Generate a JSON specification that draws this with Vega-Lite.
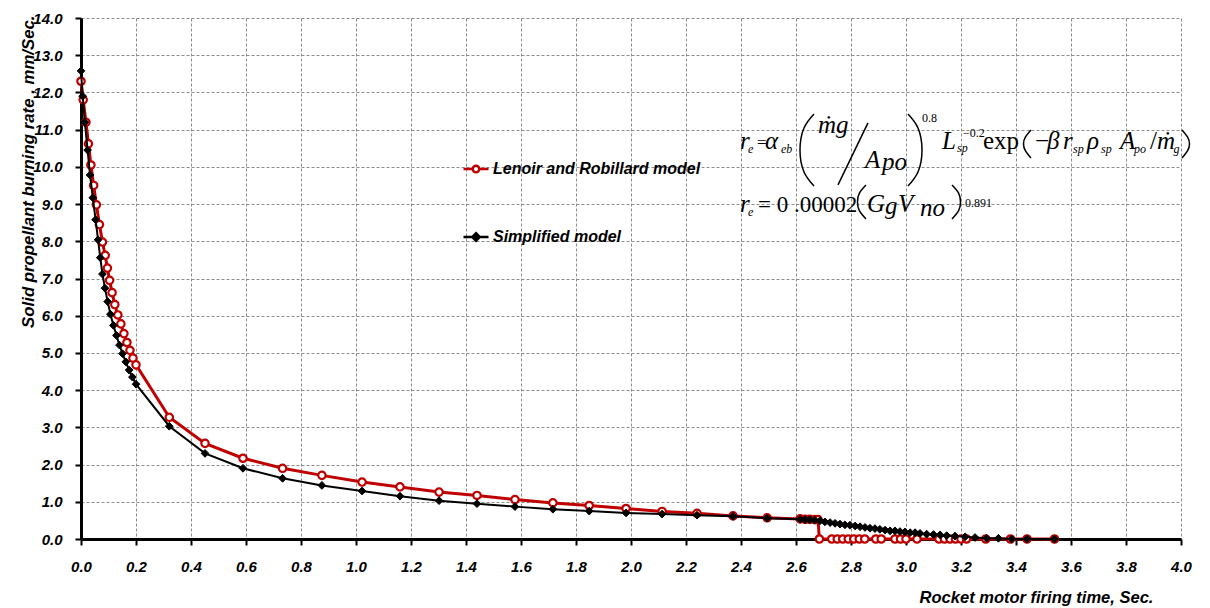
{
  "$schema": "https://vega.github.io/schema/vega-lite/v6.json",
  "width": 1100,
  "height": 521,
  "autosize": {"type": "none"},
  "padding": {"left": 81, "top": 18, "right": 29, "bottom": 69},
  "background": "white",
  "config": {
    "view": {"stroke": null},
    "axis": {
      "domainColor": "black", "domainWidth": 3,
      "tickColor": "black", "tickWidth": 2, "tickSize": 6,
      "labelFont": "Liberation Sans", "labelFontSize": 15, "labelFontStyle": "italic", "labelFontWeight": "bold", "labelColor": "black",
      "labelOverlap": false, "labelFlush": false,
      "gridColor": "#8c8c8c", "gridDash": [3, 2], "gridWidth": 1,
      "titleFont": "Liberation Sans", "titleFontSize": 16.5, "titleFontStyle": "italic", "titleFontWeight": "bold", "titleColor": "black"
    },
    "axisY": {"labelOverlap": false},
    "axisX": {"labelOverlap": false},
    "axisQuantitative": {"labelOverlap": false}
  },
  "datasets": {
    "lenoir": [
      {"t":0,"r":12.30},{"t":0.008,"r":11.80},{"t":0.018,"r":11.20},{"t":0.027,"r":10.62},{"t":0.036,"r":10.05},{"t":0.046,"r":9.50},{"t":0.056,"r":8.98},{"t":0.067,"r":8.45},{"t":0.078,"r":7.98},{"t":0.088,"r":7.62},{"t":0.096,"r":7.28},{"t":0.104,"r":6.95},{"t":0.113,"r":6.62},{"t":0.123,"r":6.30},{"t":0.134,"r":6.02},{"t":0.145,"r":5.78},{"t":0.156,"r":5.52},{"t":0.167,"r":5.28},{"t":0.178,"r":5.07},{"t":0.189,"r":4.86},{"t":0.200,"r":4.68},
      {"t":0.321,"r":3.27},{"t":0.451,"r":2.57},{"t":0.589,"r":2.17},{"t":0.733,"r":1.90},{"t":0.876,"r":1.71},{"t":1.022,"r":1.53},{"t":1.160,"r":1.40},{"t":1.302,"r":1.26},{"t":1.440,"r":1.17},{"t":1.578,"r":1.06},{"t":1.716,"r":0.97},{"t":1.848,"r":0.90},{"t":1.982,"r":0.82},{"t":2.113,"r":0.74},{"t":2.240,"r":0.69},{"t":2.371,"r":0.62},{"t":2.495,"r":0.57},
      {"t":2.615,"r":0.54},{"t":2.633,"r":0.53},{"t":2.650,"r":0.53},{"t":2.668,"r":0.52},{"t":2.680,"r":0.52},{"t":2.685,"r":0},
      {"t":2.73,"r":0},{"t":2.75,"r":0},{"t":2.77,"r":0},{"t":2.79,"r":0},{"t":2.81,"r":0},{"t":2.83,"r":0},{"t":2.85,"r":0},{"t":2.89,"r":0},{"t":2.91,"r":0},{"t":2.96,"r":0},{"t":2.98,"r":0},{"t":3.00,"r":0},{"t":3.04,"r":0},{"t":3.12,"r":0},{"t":3.14,"r":0},{"t":3.16,"r":0},{"t":3.18,"r":0},{"t":3.20,"r":0},{"t":3.22,"r":0},{"t":3.29,"r":0},{"t":3.38,"r":0},{"t":3.44,"r":0},{"t":3.54,"r":0}
    ],
    "simplified": [
      {"t":0,"r":12.58},{"t":0.006,"r":11.90},{"t":0.014,"r":11.20},{"t":0.024,"r":10.45},{"t":0.033,"r":9.78},{"t":0.043,"r":9.17},{"t":0.053,"r":8.58},{"t":0.062,"r":8.04},{"t":0.070,"r":7.56},{"t":0.078,"r":7.12},{"t":0.087,"r":6.74},{"t":0.097,"r":6.38},{"t":0.107,"r":6.04},{"t":0.118,"r":5.74},{"t":0.129,"r":5.47},{"t":0.140,"r":5.21},{"t":0.151,"r":4.98},{"t":0.163,"r":4.76},{"t":0.175,"r":4.54},{"t":0.187,"r":4.35},{"t":0.200,"r":4.16},
      {"t":0.321,"r":3.03},{"t":0.451,"r":2.30},{"t":0.589,"r":1.90},{"t":0.733,"r":1.63},{"t":0.876,"r":1.44},{"t":1.022,"r":1.29},{"t":1.160,"r":1.15},{"t":1.302,"r":1.03},{"t":1.440,"r":0.95},{"t":1.578,"r":0.87},{"t":1.716,"r":0.80},{"t":1.848,"r":0.75},{"t":1.982,"r":0.70},{"t":2.113,"r":0.67},{"t":2.240,"r":0.64},{"t":2.371,"r":0.61},{"t":2.495,"r":0.56},
      {"t":2.615,"r":0.53},{"t":2.633,"r":0.52},{"t":2.650,"r":0.52},{"t":2.668,"r":0.51},{"t":2.687,"r":0.49},{"t":2.705,"r":0.46},{"t":2.724,"r":0.44},{"t":2.742,"r":0.42},{"t":2.760,"r":0.40},{"t":2.778,"r":0.38},{"t":2.796,"r":0.37},{"t":2.815,"r":0.35},{"t":2.833,"r":0.33},{"t":2.851,"r":0.31},{"t":2.869,"r":0.29},{"t":2.887,"r":0.28},{"t":2.905,"r":0.26},{"t":2.924,"r":0.24},{"t":2.942,"r":0.22},{"t":2.960,"r":0.22},{"t":2.978,"r":0.20},{"t":2.996,"r":0.19},{"t":3.015,"r":0.17},{"t":3.033,"r":0.17},{"t":3.051,"r":0.15},{"t":3.075,"r":0.13},{"t":3.100,"r":0.12},{"t":3.124,"r":0.11},{"t":3.148,"r":0.09},{"t":3.178,"r":0.08},{"t":3.215,"r":0.06},{"t":3.251,"r":0.04},{"t":3.293,"r":0.02},{"t":3.336,"r":0.02},{"t":3.384,"r":0},{"t":3.44,"r":0},{"t":3.54,"r":0}
    ],
    "fIt": [
      {"s":"r","t":2.3964,"r":10.481},{"s":"α","t":2.4873,"r":10.481},{"s":"ṁg","t":2.68,"r":10.911},{"s":"A","t":2.851,"r":9.97},{"s":"po","t":2.913,"r":9.917},{"s":"L","t":3.131,"r":10.481},{"s":"β","t":3.5127,"r":10.481},{"s":"r","t":3.5709,"r":10.481},{"s":"ρ","t":3.6582,"r":10.481},{"s":"A","t":3.7782,"r":10.481},{"s":"ṁ","t":3.9127,"r":10.481},
      {"s":"r","t":2.3964,"r":8.788},{"s":"G","t":2.858,"r":8.788},{"s":"g","t":2.9236,"r":8.734},{"s":"V","t":2.971,"r":8.788},{"s":"no","t":3.051,"r":8.68}
    ],
    "fRm": [
      {"s":"exp","t":3.28,"r":10.481},{"s":"−","t":3.469,"r":10.481},{"s":"/","t":3.887,"r":10.481}
    ],
    "fEq": [
      {"s":"=","t":2.4582,"r":10.52}
    ],
    "fRm2": [
      {"s":"= 0 .00002","t":2.462,"r":8.788}
    ],
    "fSub": [
      {"s":"e","t":2.4255,"r":10.373},{"s":"eb","t":2.5455,"r":10.373},{"s":"sp","t":3.1855,"r":10.40},{"s":"sp","t":3.6073,"r":10.373},{"s":"sp","t":3.709,"r":10.373},{"s":"po","t":3.829,"r":10.373},{"s":"g","t":3.9727,"r":10.373},{"s":"e","t":2.4255,"r":8.68}
    ],
    "fSup": [
      {"s":"0.8","t":3.058,"r":11.207},{"s":"−0.2","t":3.2073,"r":10.803},{"s":"0.891","t":3.2145,"r":8.922}
    ],
    "strokes": [
      {"g":"p1","k":1,"t":2.6655,"r":11.422},{"g":"p1","k":2,"t":2.6291,"r":11.046},{"g":"p1","k":3,"t":2.6145,"r":10.454},{"g":"p1","k":4,"t":2.6291,"r":9.863},{"g":"p1","k":5,"t":2.6655,"r":9.487},
      {"g":"p2","k":1,"t":3.0073,"r":11.422},{"g":"p2","k":2,"t":3.0436,"r":11.046},{"g":"p2","k":3,"t":3.0582,"r":10.454},{"g":"p2","k":4,"t":3.0436,"r":9.863},{"g":"p2","k":5,"t":3.0073,"r":9.487},
      {"g":"p3","k":1,"t":3.4545,"r":10.992},{"g":"p3","k":2,"t":3.4345,"r":10.803},{"g":"p3","k":3,"t":3.4273,"r":10.615},{"g":"p3","k":4,"t":3.4345,"r":10.427},{"g":"p3","k":5,"t":3.4545,"r":10.239},
      {"g":"p4","k":1,"t":4.0036,"r":10.992},{"g":"p4","k":2,"t":4.0236,"r":10.803},{"g":"p4","k":3,"t":4.0309,"r":10.615},{"g":"p4","k":4,"t":4.0236,"r":10.427},{"g":"p4","k":5,"t":4.0036,"r":10.239},
      {"g":"p5","k":1,"t":2.8545,"r":9.514},{"g":"p5","k":2,"t":2.8309,"r":9.299},{"g":"p5","k":3,"t":2.8236,"r":9.057},{"g":"p5","k":4,"t":2.8309,"r":8.815},{"g":"p5","k":5,"t":2.8545,"r":8.600},
      {"g":"p6","k":1,"t":3.1673,"r":9.514},{"g":"p6","k":2,"t":3.1909,"r":9.299},{"g":"p6","k":3,"t":3.1982,"r":9.057},{"g":"p6","k":4,"t":3.1909,"r":8.815},{"g":"p6","k":5,"t":3.1673,"r":8.600},
      {"g":"slash","k":1,"t":2.7527,"r":9.514},{"g":"slash","k":2,"t":2.8618,"r":11.18}
    ]
  },
  "layer": [
    {
      "data": {"name": "lenoir"},
      "mark": {"type": "line", "strokeWidth": 3},
      "encoding": {
        "x": {"field": "t", "type": "quantitative", "scale": {"domain": [0, 4], "nice": false, "zero": false},
          "axis": {"values": [0,0.2,0.4,0.6,0.8,1,1.2,1.4,1.6,1.8,2,2.2,2.4,2.6,2.8,3,3.2,3.4,3.6,3.8,4], "format": ".1f", "grid": true, "labelPadding": 14, "labelOverlap": false,
            "title": "Rocket motor firing time, Sec.", "titleX": 955, "titleY": 58, "titleAlign": "center", "titleBaseline": "middle"}},
        "y": {"field": "r", "type": "quantitative", "scale": {"domain": [0, 14], "nice": false, "zero": false},
          "axis": {"values": [0,1,2,3,4,5,6,7,8,9,10,11,12,13,14], "tickCount": 15, "format": ".1f", "grid": true, "labelPadding": 13, "labelOverlap": false,
            "title": "Solid propellant burning rate , mm/Sec.", "titleFontSize": 16.8, "titleAngle": 270, "titleX": -53, "titleY": -3, "titleAlign": "right", "titleBaseline": "middle"}},
        "color": {"datum": "Lenoir and Robillard model", "type": "nominal",
          "scale": {"domain": ["Lenoir and Robillard model", "Simplified model"], "range": ["#C00000", "black"]},
          "legend": {"orient": "none", "legendX": 381, "legendY": 137, "title": null,
            "labelFont": "Liberation Sans", "labelFontSize": 16, "labelFontStyle": "italic", "labelFontWeight": "bold", "labelColor": "black", "labelLimit": 500,
            "symbolSize": 625, "symbolStrokeWidth": 2.5, "rowPadding": 45, "labelOffset": 3,
            "encode": {"symbols": {"update": {
              "shape": {"signal": "datum.value === 'Simplified model' ? 'M-1,0H1M0,-0.3L0.3,0L0,0.3L-0.3,0Z' : 'M-1,0H-0.26M0.26,0H1M-0.26,0A0.26,0.26,0,1,0,0.26,0A0.26,0.26,0,1,0,-0.26,0'"},
              "fill": {"signal": "datum.value === 'Simplified model' ? 'black' : 'white'"}
            }}}}
        }
      }
    },
    {
      "data": {"name": "lenoir"},
      "mark": {"type": "point", "shape": "circle", "filled": true, "fill": "white", "stroke": "#C00000", "strokeWidth": 2.2, "size": 55, "opacity": 1},
      "encoding": {"x": {"field": "t", "type": "quantitative"}, "y": {"field": "r", "type": "quantitative"}}
    },
    {
      "data": {"name": "simplified"},
      "mark": {"type": "line", "strokeWidth": 2},
      "encoding": {
        "x": {"field": "t", "type": "quantitative"},
        "y": {"field": "r", "type": "quantitative"},
        "color": {"datum": "Simplified model", "type": "nominal"}
      }
    },
    {
      "data": {"name": "simplified"},
      "mark": {"type": "point", "shape": "diamond", "filled": true, "fill": "black", "stroke": "black", "strokeWidth": 1, "size": 60, "opacity": 1},
      "encoding": {"x": {"field": "t", "type": "quantitative"}, "y": {"field": "r", "type": "quantitative"}}
    },
    {
      "mark": {"type": "rect", "fill": "white"},
      "encoding": {
        "x": {"datum": 2.3164, "type": "quantitative"}, "x2": {"datum": 4.087},
        "y": {"datum": 11.8, "type": "quantitative"}, "y2": {"datum": 7.85}
      }
    },
    {
      "data": {"name": "strokes"},
      "mark": {"type": "line", "color": "black", "strokeWidth": 1.5, "interpolate": "natural"},
      "encoding": {
        "x": {"field": "t", "type": "quantitative"},
        "y": {"field": "r", "type": "quantitative"},
        "detail": {"field": "g", "type": "nominal"},
        "order": {"field": "k", "type": "quantitative"}
      }
    },
    {
      "data": {"name": "fIt"},
      "mark": {"type": "text", "align": "left", "baseline": "alphabetic", "font": "Liberation Serif", "fontStyle": "italic", "fontSize": 25, "color": "black"},
      "encoding": {"x": {"field": "t", "type": "quantitative"}, "y": {"field": "r", "type": "quantitative"}, "text": {"field": "s"}}
    },
    {
      "data": {"name": "fRm"},
      "mark": {"type": "text", "align": "left", "baseline": "alphabetic", "font": "Liberation Serif", "fontSize": 25, "color": "black"},
      "encoding": {"x": {"field": "t", "type": "quantitative"}, "y": {"field": "r", "type": "quantitative"}, "text": {"field": "s"}}
    },
    {
      "data": {"name": "fEq"},
      "mark": {"type": "text", "align": "left", "baseline": "alphabetic", "font": "Liberation Serif", "fontSize": 17, "color": "black"},
      "encoding": {"x": {"field": "t", "type": "quantitative"}, "y": {"field": "r", "type": "quantitative"}, "text": {"field": "s"}}
    },
    {
      "data": {"name": "fRm2"},
      "mark": {"type": "text", "align": "left", "baseline": "alphabetic", "font": "Liberation Serif", "fontSize": 23, "color": "black"},
      "encoding": {"x": {"field": "t", "type": "quantitative"}, "y": {"field": "r", "type": "quantitative"}, "text": {"field": "s"}}
    },
    {
      "data": {"name": "fSub"},
      "mark": {"type": "text", "align": "left", "baseline": "alphabetic", "font": "Liberation Serif", "fontStyle": "italic", "fontSize": 12, "color": "black"},
      "encoding": {"x": {"field": "t", "type": "quantitative"}, "y": {"field": "r", "type": "quantitative"}, "text": {"field": "s"}}
    },
    {
      "data": {"name": "fSup"},
      "mark": {"type": "text", "align": "left", "baseline": "alphabetic", "font": "Liberation Serif", "fontSize": 12, "color": "black"},
      "encoding": {"x": {"field": "t", "type": "quantitative"}, "y": {"field": "r", "type": "quantitative"}, "text": {"field": "s"}}
    }
  ]
}
